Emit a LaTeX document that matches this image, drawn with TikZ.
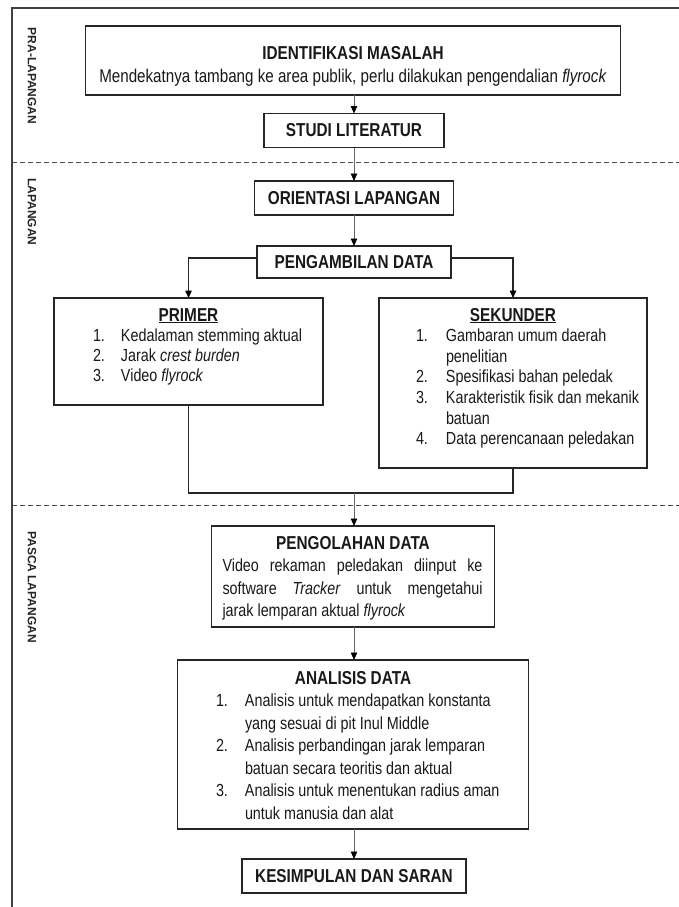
\documentclass[tikz,border=0pt]{standalone}
\usepackage{fontspec}
\setmainfont{Liberation Sans}[FakeStretch=0.82]
\newfontfamily\sidefont{Liberation Sans}
\usetikzlibrary{arrows.meta}
\newcommand{\boxtext}[3]{\parbox[t][#2][t]{#1}{#3}}
\newcommand{\ttl}[1]{{\fontsize{18.7bp}{20bp}\selectfont\bfseries #1}}
\begin{document}
\begin{tikzpicture}[x=1bp,y=-1bp,
  every node/.style={text=black!90, font=\fontsize{17.5bp}{20bp}\selectfont},
  fbox/.style={draw=black!85, line width=1.6bp, inner sep=0pt, outer sep=0pt},
  sbox/.style={fbox, minimum height=34bp, font=\fontsize{18.7bp}{20bp}\selectfont\bfseries},
  tip/.style={-{Triangle[width=6.5bp,length=7.5bp,fill=black,color=black]}},
  arr/.style={tip, draw=black!60, line width=0.8bp},
  link/.style={tip, draw=black!85, line width=1.3bp},
  plainlink/.style={draw=black!85, line width=1.3bp},
  sep/.style={draw=black!70, line width=1bp, dash pattern=on 5bp off 3bp},
  side/.style={font=\sidefont\fontsize{12bp}{12bp}\selectfont\bfseries, text=black!85, rotate=-90},
]
\fill[white] (0,0) rectangle (679,907);
\useasboundingbox (0,0) rectangle (679,907);

% frame
\draw[line width=2.2bp, black!75] (12,907) -- (12,8) -- (679,8);
\draw[sep] (12,162) -- (679,162);
\draw[sep] (12,505) -- (679,505);

% side labels
\node[side] (pra) at (32,76) {PRA-LAPANGAN};
\node[side] (lap) at (32,212) {LAPANGAN};
\node[side] (pasca) at (32,587) {PASCA LAPANGAN};

% boxes
\node[fbox, anchor=north west] (ident) at (85.5,26) {\boxtext{535bp}{69bp}{\fontsize{18.5bp}{20bp}\selectfont\centering\rule{0pt}{33bp}\ttl{IDENTIFIKASI MASALAH}\\[3bp]Mendekatnya tambang ke area publik, perlu dilakukan pengendalian \textit{flyrock}}};

\node[sbox, minimum width=180bp] (studi) at (354,130.5) {STUDI LITERATUR};
\node[sbox, minimum width=199bp] (orient) at (354,198) {ORIENTASI LAPANGAN};
\node[sbox, minimum width=194bp, minimum height=32bp] (ambil) at (354,262) {PENGAMBILAN DATA};

\node[fbox, anchor=north west] (primer) at (54,298) {\boxtext{269bp}{107bp}{\centering\rule{0pt}{23bp}\ttl{\underline{PRIMER}}\par\raggedright\hspace*{39bp}\begin{tabular}[t]{@{}p{28bp}@{}l@{}}1.&Kedalaman stemming aktual\\2.&Jarak \textit{crest burden}\\3.&Video \textit{flyrock}\end{tabular}}};

\node[fbox, anchor=north west] (sekunder) at (379,298) {\boxtext{268bp}{170bp}{\fontsize{17.5bp}{20.6bp}\selectfont\centering\rule{0pt}{23bp}\ttl{\underline{SEKUNDER}}\par\raggedright\hspace*{37bp}\begin{tabular}[t]{@{}p{30bp}@{}l@{}}1.&Gambaran umum daerah\\&penelitian\\2.&Spesifikasi bahan peledak\\3.&Karakteristik fisik dan mekanik\\&batuan\\4.&Data perencanaan peledakan\end{tabular}}};

\node[fbox, anchor=north west] (olah) at (211.5,526) {\boxtext{283bp}{101bp}{\fontsize{17.5bp}{22.5bp}\selectfont\centering\rule{0pt}{23bp}\ttl{PENGOLAHAN DATA}\par\raggedright\hspace*{11bp}\makebox[260bp][s]{Video rekaman peledakan diinput ke}\\\hspace*{11bp}\makebox[260bp][s]{software \textit{Tracker} untuk mengetahui}\\\hspace*{11bp}jarak lemparan aktual \textit{flyrock}}};

\node[fbox, anchor=north west] (analisis) at (177.5,660) {\boxtext{351bp}{169bp}{\fontsize{17.5bp}{22.5bp}\selectfont\centering\rule{0pt}{24bp}\ttl{ANALISIS DATA}\par\raggedright\hspace*{38.5bp}\begin{tabular}[t]{@{}p{29bp}@{}l@{}}1.&Analisis untuk mendapatkan konstanta\\&yang sesuai di pit Inul Middle\\2.&Analisis perbandingan jarak lemparan\\&batuan secara teoritis dan aktual\\3.&Analisis untuk menentukan radius aman\\&untuk manusia dan alat\end{tabular}}};

\node[sbox, minimum width=224bp] (simpul) at (354,876) {KESIMPULAN DAN SARAN};

% connectors
\draw[arr] (ident.south -| studi.north) -- (studi.north);
\draw[arr] (studi.south) -- (orient.north);
\draw[arr] (orient.south) -- (ambil.north);
\draw[link] ([yshift=4bp]ambil.west) -| (primer.north);
\draw[link] ([yshift=4bp]ambil.east) -| (sekunder.north);
\coordinate (merge) at (354,493);
\draw[plainlink] (primer.south) |- (sekunder.south |- merge) -- (sekunder.south);
\draw[arr] (merge) -- (olah.north -| merge);
\draw[arr] (olah.south -| merge) -- (analisis.north -| merge);
\draw[arr] (analisis.south -| merge) -- (simpul.north);
\end{tikzpicture}
\end{document}
